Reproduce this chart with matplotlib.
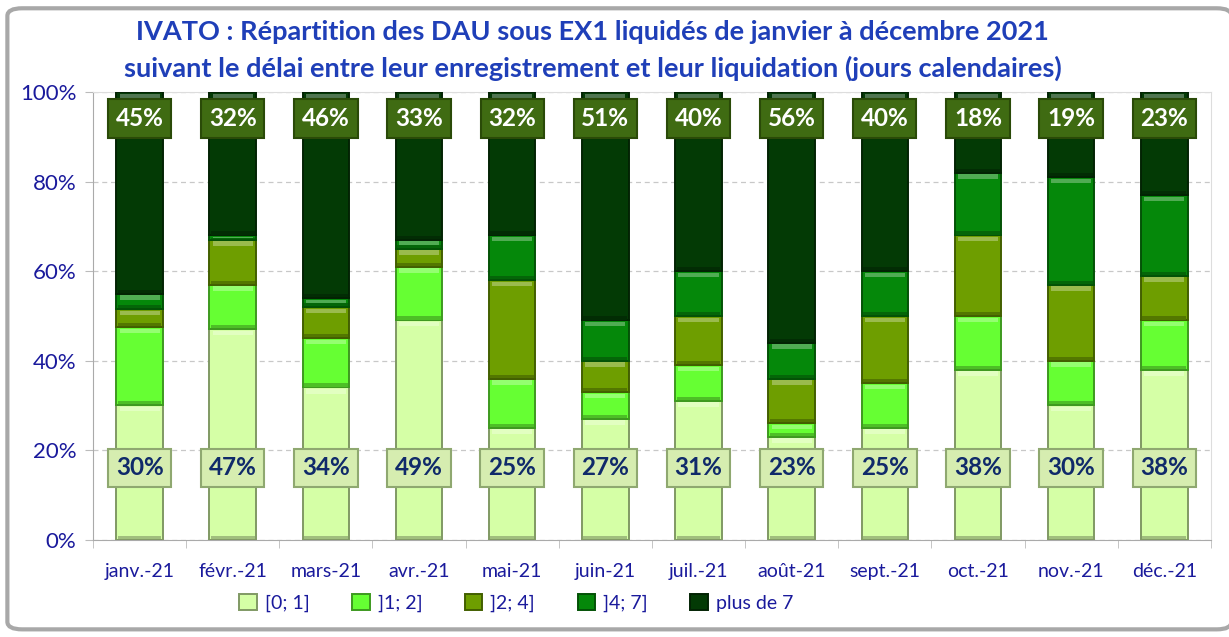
import numpy as np
import matplotlib
matplotlib.use("Agg")
import matplotlib.pyplot as plt
from matplotlib.patches import FancyBboxPatch
from matplotlib.colors import to_rgb

plt.rcParams['font.family'] = ['Lato', 'DejaVu Sans']

# Parts (en %) des DAU liquidés par tranche de délai
mois = ["janv.-21", "févr.-21", "mars-21", "avr.-21", "mai-21", "juin-21",
        "juil.-21", "août-21", "sept.-21", "oct.-21", "nov.-21", "déc.-21"]
tranches = ["[0; 1]", "]1; 2]", "]2; 4]", "]4; 7]", "plus de 7"]
j0_1 = [30, 47, 34, 49, 25, 27, 31, 23, 25, 38, 30, 38]
j1_2 = [17.5, 10, 11, 12, 11, 6, 8, 3, 10, 12, 10, 11]
j2_4 = [4, 10, 7, 4, 22, 7, 11, 10, 15, 18, 17, 10]
j4_7 = [3.5, 1, 2, 2, 10, 9, 10, 8, 10, 14, 24, 18]
plus7 = [45, 32, 46, 33, 32, 51, 40, 56, 40, 18, 19, 23]

couleurs = ["#D5FFA6", "#66FF33", "#6E9E00", "#05880A", "#033A05"]
bleu = "#1A1A9C"

def teinte(c, f):
    r = np.array(to_rgb(c))
    if f > 0:
        return tuple(r + (1 - r) * f)
    return tuple(r * (1 + f))

fig = plt.figure(figsize=(12.29, 6.37), dpi=100)
fig.patch.set_facecolor("white")

# cadre arrondi autour du graphique
cadre = FancyBboxPatch((0.006, 0.012), 0.996, 0.975, transform=fig.transFigure,
                       boxstyle="round,pad=0,rounding_size=0.012",
                       facecolor="white", edgecolor="#A8A8A8", linewidth=3, zorder=-5)
fig.patches.append(cadre)

ax = fig.add_axes([0.0757, 0.153, 0.9095, 0.702])
x = np.arange(len(mois))
largeur = 0.5
series = [j0_1, j1_2, j2_4, j4_7, plus7]
bas = np.zeros(len(mois))
for serie, coul, nom in zip(series, couleurs, tranches):
    v = np.array(serie, dtype=float)
    ax.bar(x, v, largeur, bottom=bas, color=coul, edgecolor=teinte(coul, -0.4),
           linewidth=1.4, zorder=3, label=nom)
    # effet de biseau : bandeau clair en haut, ombre légère en bas
    h = np.minimum(v * 0.4, 1.0)
    ax.bar(x, h, largeur * 0.86, bottom=bas + v - h - 0.35,
           color=teinte(coul, 0.3), linewidth=0, zorder=4)
    ax.bar(x, np.minimum(v * 0.3, 0.7), largeur * 0.94, bottom=bas + 0.2,
           color=teinte(coul, -0.25), linewidth=0, zorder=4)
    bas += v

# étiquettes de valeur
for i in range(len(mois)):
    ax.text(x[i], 16, f"{j0_1[i]:.0f}%", ha="center", va="center", fontsize=17.5,
            fontweight="bold", color="#102A6A", zorder=6,
            bbox=dict(boxstyle="square,pad=0.32", facecolor="#D6EDB0",
                      edgecolor="#8FA870", linewidth=1.5))
    ax.text(x[i], 94.2, f"{plus7[i]:.0f}%", ha="center", va="center", fontsize=17.5,
            fontweight="bold", color="white", zorder=6,
            bbox=dict(boxstyle="square,pad=0.32", facecolor="#3F6B12",
                      edgecolor="#2A4A08", linewidth=1.5))

ax.set_xlim(-0.5, len(mois) - 0.5)
ax.set_ylim(0, 100)
ax.set_yticks(np.arange(0, 101, 20))
ax.set_yticklabels([f"{v}%" for v in range(0, 101, 20)])
ax.set_xticks(x)
ax.set_xticklabels(mois)
ax.set_xticks(np.arange(-0.5, len(mois), 1), minor=True)
ax.tick_params(axis="x", which="major", length=0, pad=17, labelsize=14, labelcolor=bleu)
ax.tick_params(axis="x", which="minor", length=6, color="#BBBBBB")
ax.tick_params(axis="y", length=6, color="#BBBBBB", labelsize=16, labelcolor=bleu, pad=6)
ax.grid(axis="y", linestyle=(0, (4, 3)), color="#C8C8C8", linewidth=0.9, zorder=0)
for s in ["left", "bottom"]:
    ax.spines[s].set_color("#AAAAAA")
for s in ["top", "right"]:
    ax.spines[s].set_color("#DDDDDD")

fig.text(0.482, 0.95, "IVATO : Répartition des DAU sous EX1 liquidés de janvier à décembre 2021",
         ha="center", va="center", fontsize=19.5, fontweight="bold", color="#1F3FB8")
fig.text(0.482, 0.893, "suivant le délai entre leur enregistrement et leur liquidation (jours calendaires)",
         ha="center", va="center", fontsize=19.5, fontweight="bold", color="#1F3FB8")

leg = fig.legend(loc="center", bbox_to_anchor=(0.42, 0.053), ncol=5, frameon=False,
                 fontsize=14, handlelength=0.9, handleheight=0.9, columnspacing=2.2,
                 handletextpad=0.4)
for t in leg.get_texts():
    t.set_color(bleu)

fig.savefig("out.png", dpi=100)
